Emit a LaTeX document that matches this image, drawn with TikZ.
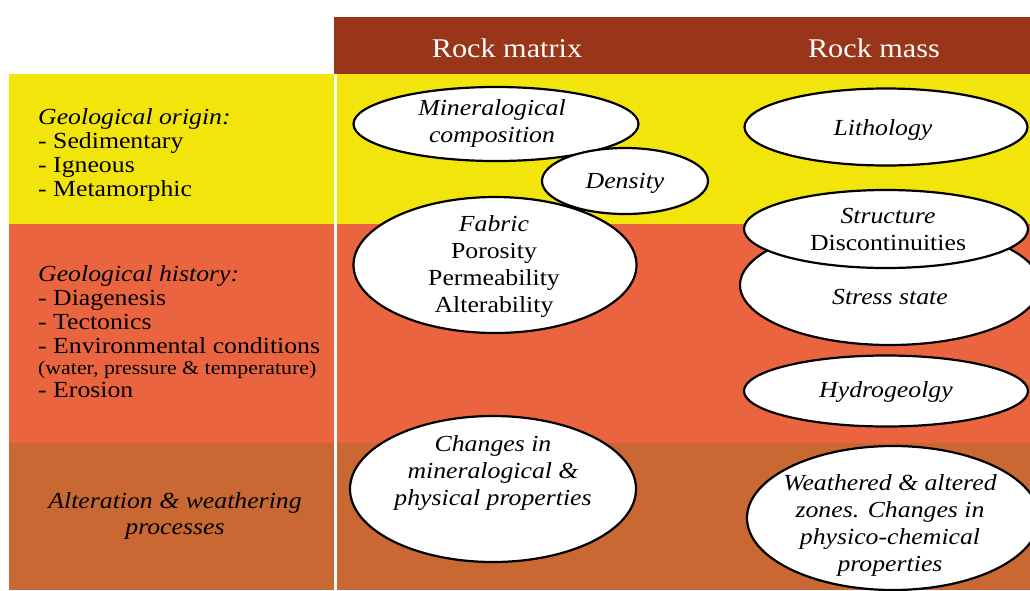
\documentclass[tikz,border=0pt]{standalone}
\usepackage{fontspec}
\setmainfont{Liberation Serif}[FakeStretch=1.12]
\usepackage{tikz}
\usetikzlibrary{shapes.geometric}

\definecolor{rockbrown}{HTML}{993519}
\definecolor{rockyellow}{HTML}{F2E50B}
\definecolor{rockorange}{HTML}{EA653F}
\definecolor{rockrust}{HTML}{C96832}

\tikzset{
  blob/.style={draw=black, fill=white, ellipse, line width=2.2pt, inner sep=0pt},
  inblob/.style={align=center, inner sep=0pt, font=\fontsize{23}{27}\selectfont},
  lft/.style={align=left, inner sep=0pt, anchor=north west, font=\fontsize{23}{24}\selectfont},
  head/.style={text=white, inner sep=0pt, anchor=base, font=\fontsize{27}{30}\selectfont}
}

\begin{document}
\begin{tikzpicture}[x=1pt,y=-1pt]
\useasboundingbox (0,0) rectangle (1030,590);
\clip (0,0) rectangle (1030,590);

\fill[rockbrown] (334,17) rectangle (1030,74);
\fill[rockyellow] (9,74) rectangle (1030,224);
\fill[rockorange] (9,224) rectangle (1030,443);
\fill[rockrust] (9,443) rectangle (1030,590);
\draw[white, line width=3pt] (335,74) -- (335,590);

\node[head] (matrix) at (507,57) {Rock matrix};
\node[head] (mass) at (874,57) {Rock mass};

\node[lft] (origin) at (38,108) {\textit{Geological origin:}\\- Sedimentary\\- Igneous\\- Metamorphic};
\node[lft] (history) at (38,265) {\textit{Geological history:}\\- Diagenesis\\- Tectonics\\- Environmental conditions\\[-3pt]
  {\fontsize{19.5}{21}\selectfont (water, pressure \& temperature)}\\[-1pt]- Erosion};
\node[align=center, inner sep=0pt, font=\fontsize{23}{26}\selectfont\itshape] (alter) at (175,516)
  {Alteration \& weathering\\processes};

\node[blob, minimum width=283, minimum height=136] (fabric) at (495,265) {};
\node[blob, minimum width=285, minimum height=74] (mincomp) at (496,124) {};
\node[blob, minimum width=166, minimum height=66] (dens) at (625,181) {};
\node[blob, minimum width=286, minimum height=146] (chmin) at (493,489) {};

\node[blob, minimum width=283, minimum height=77] (litho) at (886,127) {};
\node[blob, minimum width=300, minimum height=120] (stress) at (890,285) {};
\node[blob, minimum width=284, minimum height=78] (struct) at (886,229) {};
\node[blob, minimum width=284, minimum height=71] (hydro) at (886,391) {};
\node[blob, minimum width=292, minimum height=144] (weath) at (893,518) {};

\node[inblob, font=\fontsize{23}{27}\selectfont\itshape] (mincompT) at (492,123) {Mineralogical\\composition};
\node[inblob, font=\fontsize{23}{27}\selectfont\itshape] (densT) at (625,183) {Density};
\node[inblob] (fabricT) at (494,266) {\textit{Fabric}\\Porosity\\Permeability\\Alterability};
\node[inblob, font=\fontsize{23}{27}\selectfont\itshape] (chminT) at (493,473) {Changes in\\mineralogical \&\\physical properties};

\node[inblob, font=\fontsize{23}{27}\selectfont\itshape] (lithoT) at (883,130) {Lithology};
\node[inblob] (structT) at (888,229) {\textit{Structure}\\Discontinuities};
\node[inblob, font=\fontsize{23}{27}\selectfont\itshape] (stressT) at (890,297) {Stress state};
\node[inblob, font=\fontsize{23}{27}\selectfont\itshape] (hydroT) at (886,392) {Hydrogeolgy};
\node[inblob, font=\fontsize{23}{27}\selectfont\itshape] (weathT) at (890,525) {Weathered \& altered\\zones. Changes in\\physico-chemical\\properties};
\end{tikzpicture}
\end{document}
